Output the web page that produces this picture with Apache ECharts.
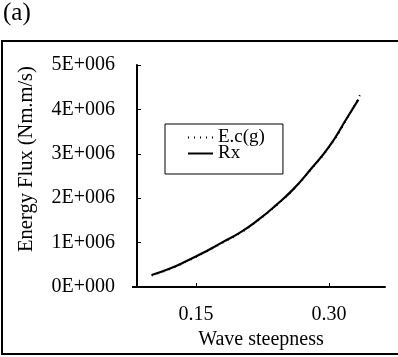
<!DOCTYPE html>
<html>
<head>
<meta charset="utf-8">
<script src="https://cdn.jsdelivr.net/npm/echarts@6/dist/echarts.min.js"></script>
<style>
html,body{margin:0;padding:0;background:#fff;}
#chart{width:398px;height:357px;}
</style>
</head>
<body>
<div id="chart"></div>
<script>
// Data (energy flux in units of 1E+006 Nm.m/s)
const ecgX = [0.10, 0.12, 0.14, 0.16, 0.18, 0.20, 0.22, 0.24, 0.26, 0.28, 0.30, 0.32, 0.336];
const ecgY = [0.26, 0.40, 0.58, 0.78, 1.00, 1.22, 1.50, 1.83, 2.20, 2.66, 3.15, 3.78, 4.37];
const rxX  = [0.10, 0.12, 0.14, 0.16, 0.18, 0.20, 0.22, 0.24, 0.26, 0.28, 0.30, 0.32, 0.333];
const rxY  = [0.27, 0.41, 0.59, 0.79, 1.01, 1.23, 1.51, 1.84, 2.21, 2.67, 3.16, 3.80, 4.22];
const xTicks = [0.15, 0.30];
const xTickLabels = ['0.15', '0.30'];
const yTickLabels = ['0E+000', '1E+006', '2E+006', '3E+006', '4E+006', '5E+006'];
const SCALE = 1e6;

const font = 'Liberation Serif';
const chart = echarts.init(document.getElementById('chart'));

const pairs = (xs, ys) => xs.map((x, i) => [x, ys[i] * SCALE]);

chart.setOption({
  animation: false,
  backgroundColor: '#fff',
  textStyle: { fontFamily: font, color: '#000' },
  grid: { left: 137, right: 13, top: 65, bottom: 70, containLabel: false },
  graphic: [
    { type: 'rect', shape: { x: 2, y: 41, width: 420, height: 313 },
      style: { fill: 'none', stroke: '#000', lineWidth: 2 }, silent: true },
    { type: 'text', left: 3, top: 1,
      style: { text: '(a)', font: '25px "Liberation Serif"', fill: '#000' } },
    { type: 'text', x: 27, y: 159, rotation: Math.PI / 2,
      style: { text: 'Energy Flux (Nm.m/s)', font: '20.5px "Liberation Serif"', fill: '#000',
               align: 'center', verticalAlign: 'middle' } },
    { type: 'line', shape: { x1: 132, y1: 287, x2: 137, y2: 287 },
      style: { stroke: '#000', lineWidth: 2 } }
  ],
  legend: {
    left: 165, top: 124, orient: 'vertical',
    borderColor: '#000', borderWidth: 1, borderRadius: 0,
    padding: [4, 18, 11, 22], itemGap: -3,
    itemWidth: 25, itemHeight: 15,
    itemStyle: { color: 'rgba(0,0,0,0)', borderWidth: 0, opacity: 0 },
    textStyle: { fontFamily: font, fontSize: 19, color: '#000' },
    data: [{ name: 'E.c(g)' }, { name: 'Rx' }]
  },
  xAxis: {
    type: 'value', min: 0.0835, max: 0.363,
    name: 'Wave steepness', nameLocation: 'middle', nameGap: 39,
    nameTextStyle: { fontFamily: font, fontSize: 20, color: '#000' },
    axisLine: { onZero: false, lineStyle: { color: '#000', width: 2 } },
    axisTick: { show: true, inside: true, length: 4, customValues: xTicks, lineStyle: { color: '#000' } },
    axisLabel: { customValues: xTicks, margin: 18, fontFamily: font, fontSize: 20, color: '#000',
                 formatter: v => xTickLabels[xTicks.indexOf(+v.toFixed(2))] ?? '' },
    splitLine: { show: false }
  },
  yAxis: {
    type: 'value', min: 0, max: 5 * SCALE, interval: SCALE,
    axisLine: { show: true, onZero: false, lineStyle: { color: '#000', width: 2 } },
    axisTick: { show: true, inside: true, length: 4, lineStyle: { color: '#000' } },
    axisLabel: { margin: 22, fontFamily: font, fontSize: 20, color: '#000',
                 formatter: v => yTickLabels[Math.round(v / SCALE)] },
    splitLine: { show: false }
  },
  series: [
    { name: 'E.c(g)', type: 'line', data: pairs(ecgX, ecgY), symbol: 'none', smooth: true,
      lineStyle: { color: '#000', width: 2, type: [1, 5] }, itemStyle: { color: '#000' } },
    { name: 'Rx', type: 'line', data: pairs(rxX, rxY), symbol: 'none', smooth: true,
      lineStyle: { color: '#000', width: 2.2, type: 'solid' }, itemStyle: { color: '#000' } }
  ]
});
</script>
</body>
</html>
